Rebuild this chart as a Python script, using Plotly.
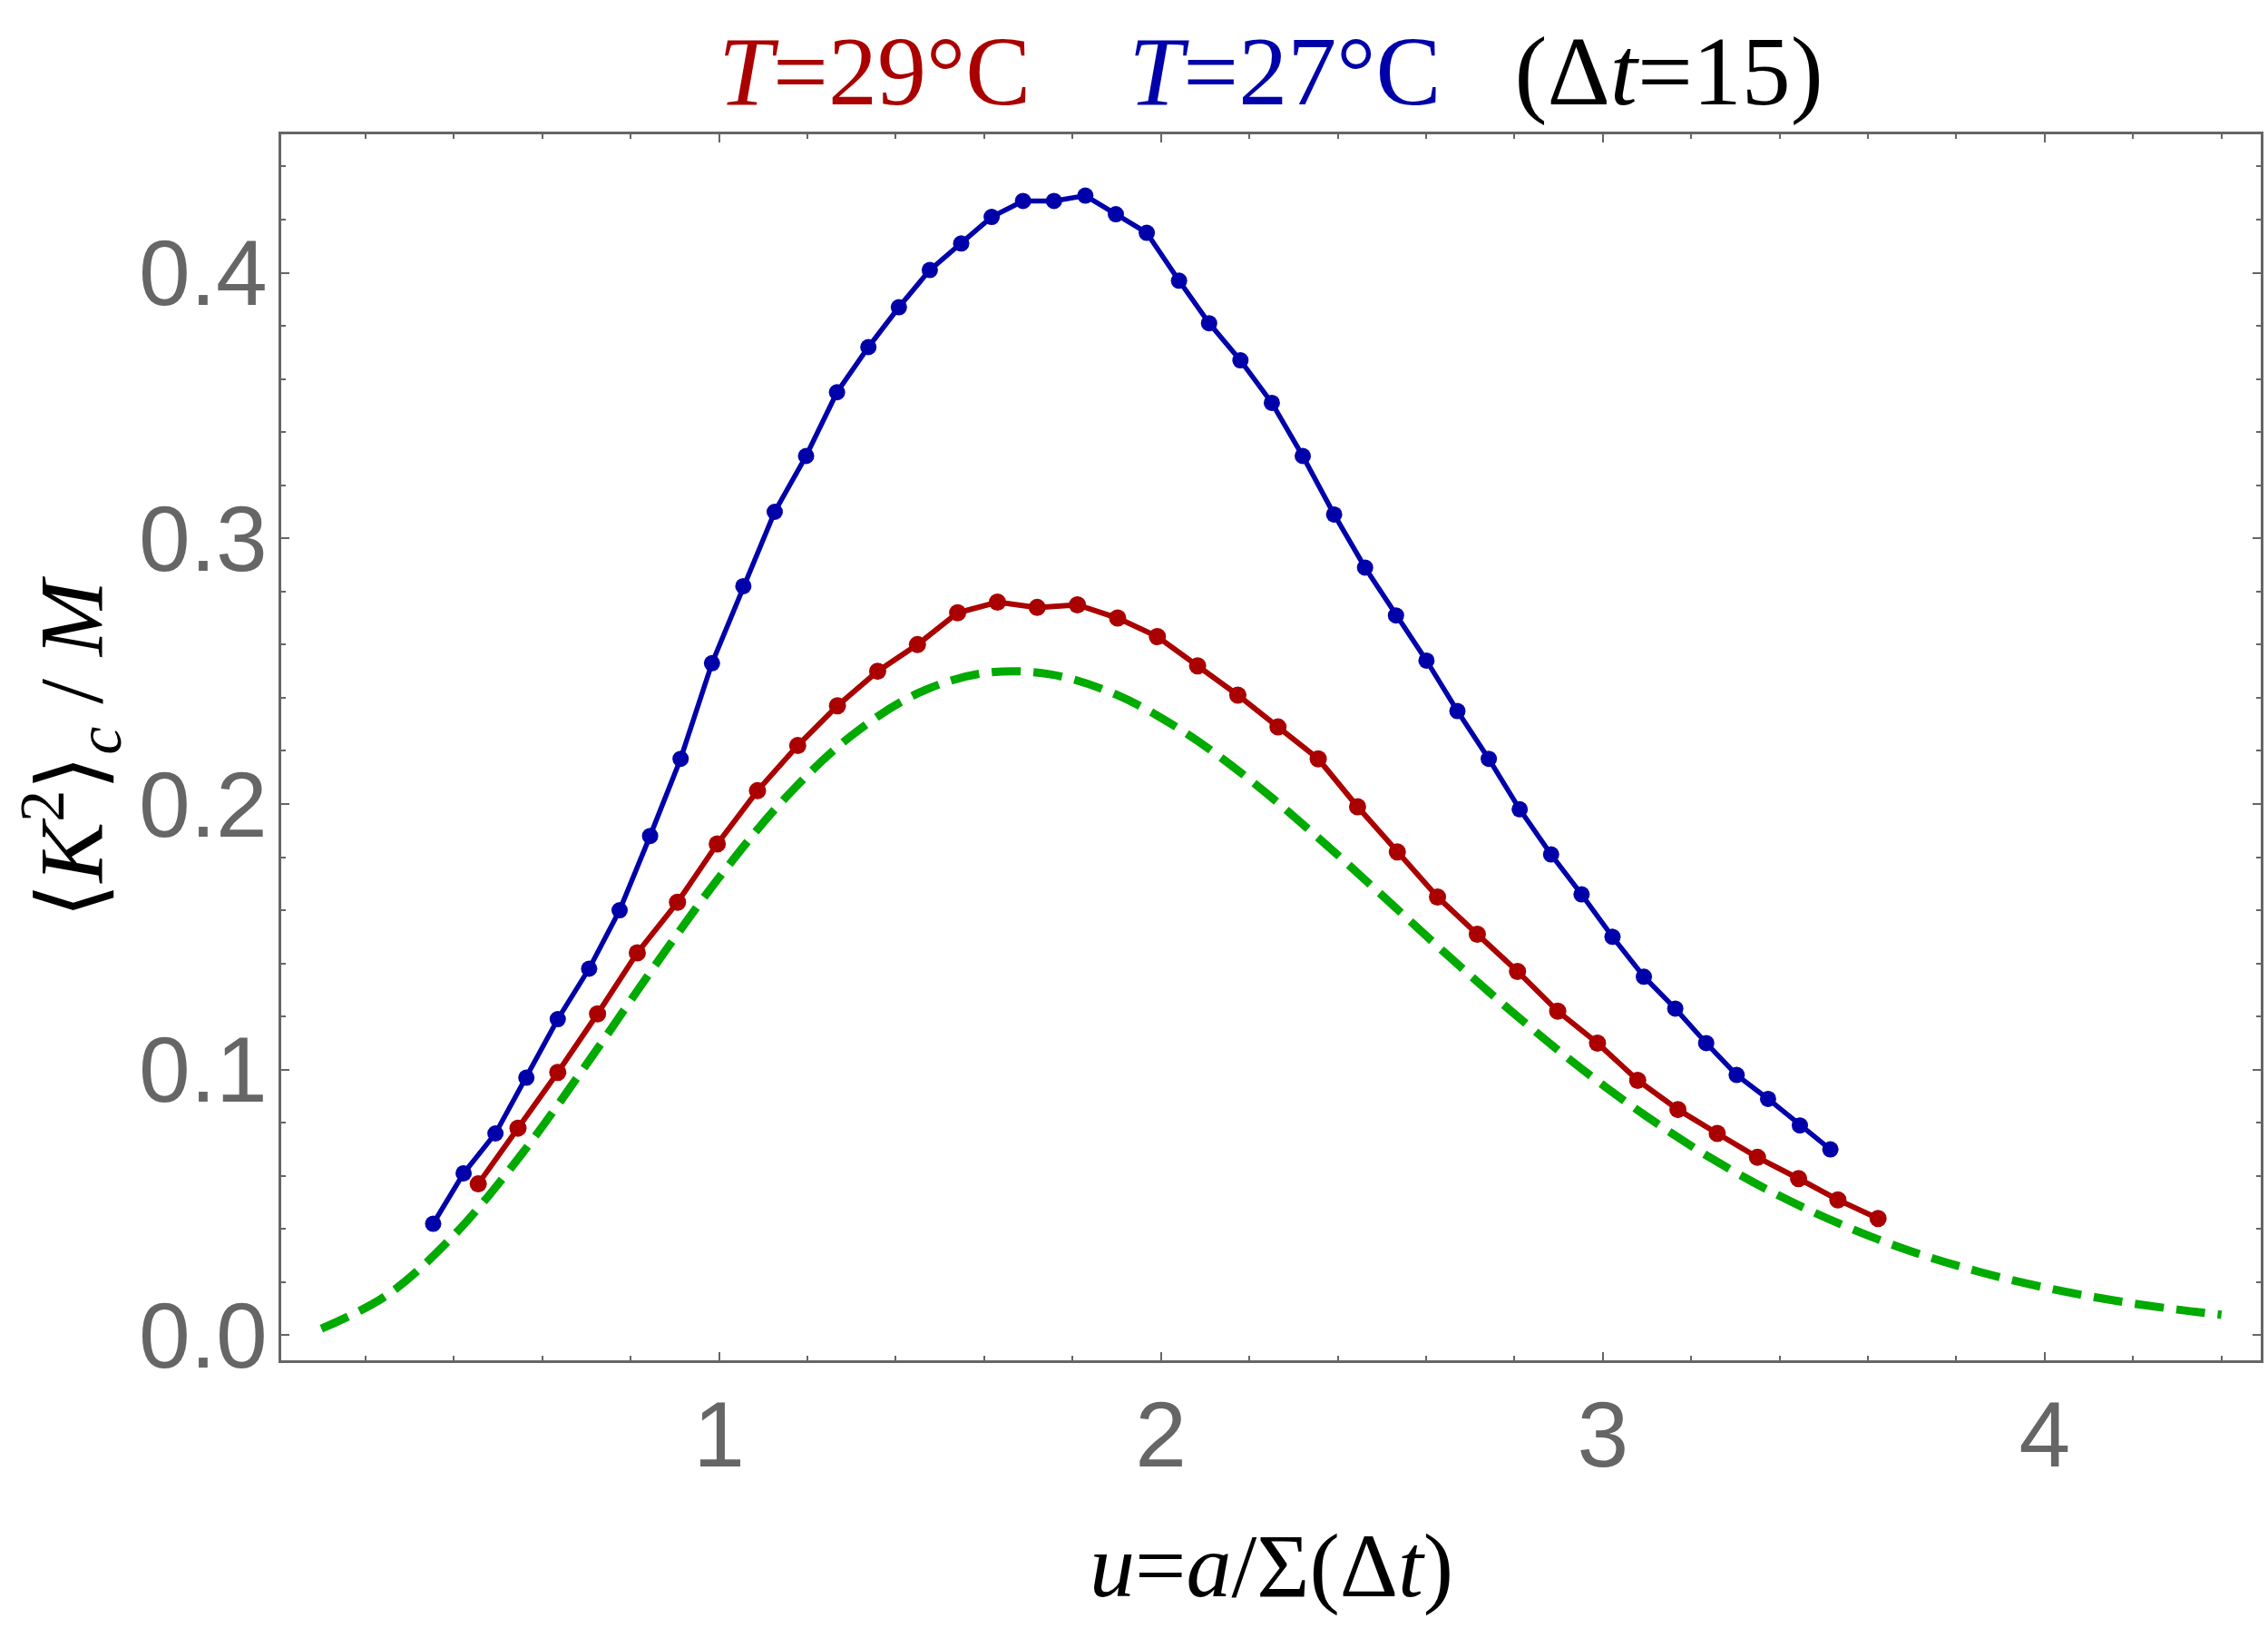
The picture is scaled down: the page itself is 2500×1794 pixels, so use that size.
import plotly.graph_objects as go

# ---------------- data ----------------
blue_u = [0.353, 0.422, 0.494, 0.564, 0.635, 0.706, 0.775, 0.844, 0.913, 0.984,
          1.055, 1.126, 1.197, 1.267, 1.338, 1.407, 1.477, 1.548, 1.617, 1.688,
          1.758, 1.829, 1.898, 1.968, 2.041, 2.109, 2.180, 2.251, 2.321, 2.392,
          2.462, 2.532, 2.601, 2.671, 2.742, 2.812, 2.883, 2.952, 3.022, 3.093,
          3.164, 3.234, 3.303, 3.374, 3.446, 3.515]
blue_k = [0.042, 0.061, 0.076, 0.097, 0.119, 0.138, 0.160, 0.188, 0.217, 0.253,
          0.282, 0.310, 0.331, 0.355, 0.372, 0.387, 0.401, 0.411, 0.421, 0.427,
          0.427, 0.429, 0.422, 0.415, 0.397, 0.381, 0.367, 0.351, 0.331, 0.309,
          0.289, 0.271, 0.254, 0.235, 0.217, 0.198, 0.181, 0.166, 0.150, 0.135,
          0.123, 0.110, 0.098, 0.089, 0.079, 0.070]

red_u = [0.455, 0.545, 0.635, 0.725, 0.815, 0.906, 0.996, 1.087, 1.178, 1.268,
         1.359, 1.449, 1.540, 1.630, 1.720, 1.811, 1.902, 1.992, 2.083, 2.174,
         2.265, 2.356, 2.445, 2.535, 2.626, 2.716, 2.807, 2.898, 2.988, 3.079,
         3.170, 3.259, 3.350, 3.443, 3.532, 3.623]
red_k = [0.057, 0.078, 0.099, 0.121, 0.144, 0.163, 0.185, 0.205, 0.222, 0.237,
         0.250, 0.260, 0.272, 0.276, 0.274, 0.275, 0.270, 0.263, 0.252, 0.241,
         0.229, 0.217, 0.199, 0.182, 0.165, 0.151, 0.137, 0.122, 0.110, 0.096,
         0.085, 0.076, 0.067, 0.059, 0.051, 0.044]

green_u = [0.10, 0.25, 0.40, 0.55, 0.70, 0.85, 1.00, 1.15, 1.30, 1.45,
           1.60, 1.75, 1.90, 2.05, 2.20, 2.35, 2.50, 2.65, 2.80, 2.95,
           3.10, 3.25, 3.40, 3.55, 3.70, 3.85, 4.00, 4.15, 4.30, 4.40]
green_k = [0.0025, 0.0153, 0.0377, 0.0675, 0.1020, 0.1380, 0.1723, 0.2023, 0.2258, 0.2417,
           0.2493, 0.2488, 0.2411, 0.2274, 0.2093, 0.1882, 0.1657, 0.1429, 0.1210, 0.1006,
           0.0823, 0.0662, 0.0525, 0.0410, 0.0315, 0.0240, 0.0180, 0.0133, 0.0097, 0.0078]

x_tickvals = [1, 2, 3, 4]
y_tickvals = [0.0, 0.1, 0.2, 0.3, 0.4]
y_ticktext = ["0.0", "0.1", "0.2", "0.3", "0.4"]

RED = "#AA0000"
BLUE = "#0000AA"
GREEN = "#00AA00"
GRAY = "#666666"
SERIF = "Liberation Serif"
SANS = "Liberation Sans"

fig = go.Figure()
fig.add_trace(go.Scatter(x=green_u, y=green_k, mode="lines", line_shape="spline",
                         line=dict(color=GREEN, width=9, dash="32px,14px"),
                         showlegend=False, hoverinfo="skip"))
fig.add_trace(go.Scatter(x=red_u, y=red_k, mode="lines+markers",
                         line=dict(color=RED, width=6),
                         marker=dict(color=RED, size=19, line=dict(width=0)),
                         showlegend=False))
fig.add_trace(go.Scatter(x=blue_u, y=blue_k, mode="lines+markers",
                         line=dict(color=BLUE, width=5.5),
                         marker=dict(color=BLUE, size=18, line=dict(width=0)),
                         showlegend=False))

axis_common = dict(showline=True, linecolor=GRAY, linewidth=2.5, mirror="ticks",
                   ticks="inside", ticklen=9, tickwidth=2, tickcolor=GRAY,
                   showgrid=False, zeroline=False, ticklabelstandoff=-8,
                   tickfont=dict(family=SANS, size=102, color=GRAY))

fig.update_xaxes(range=[0.0092, 4.489], tickvals=x_tickvals,
                 minor=dict(ticks="inside", ticklen=5, tickwidth=1.5, tickcolor=GRAY,
                            dtick=0.2, tick0=0, showgrid=False),
                 **axis_common)
fig.update_yaxes(range=[-0.0094, 0.4521], tickvals=y_tickvals, ticktext=y_ticktext,
                 minor=dict(ticks="inside", ticklen=5, tickwidth=1.5, tickcolor=GRAY,
                            dtick=0.02, tick0=0, showgrid=False),
                 **axis_common)

NB = "\u00a0"
title_text = (f"<span style='color:{RED}'><i>T</i>=29°C</span>" + NB * 4 +
              f"<span style='color:{BLUE}'><i>T</i>=27°C</span>" + NB * 3 +
              "(Δ<i>t</i>=15)")

fig.update_layout(
    width=2500, height=1794,
    margin=dict(l=310, r=5, t=148, b=295),
    paper_bgcolor="white", plot_bgcolor="white",
    annotations=[
        dict(text=title_text, x=0.5, y=1, xref="paper", yref="paper",
             xanchor="center", yanchor="middle", yshift=69, showarrow=False,
             font=dict(family=SERIF, size=108, color="black")),
        dict(text="<i>u</i>=<i>a</i>/Σ(Δ<i>t</i>)", x=0.5, y=0, xref="paper", yref="paper",
             xanchor="center", yanchor="middle", yshift=-226, showarrow=False,
             font=dict(family=SERIF, size=100, color="black")),
        dict(text="⟨<i>K</i><sup>2</sup>⟩<sub><i>c</i></sub> / <i>M</i>", x=0, y=0.5,
             xref="paper", yref="paper", xanchor="center", yanchor="middle",
             xshift=-233, textangle=-90, showarrow=False,
             font=dict(family=SERIF, size=100, color="black")),
    ],
)

fig.write_html("out.html")
